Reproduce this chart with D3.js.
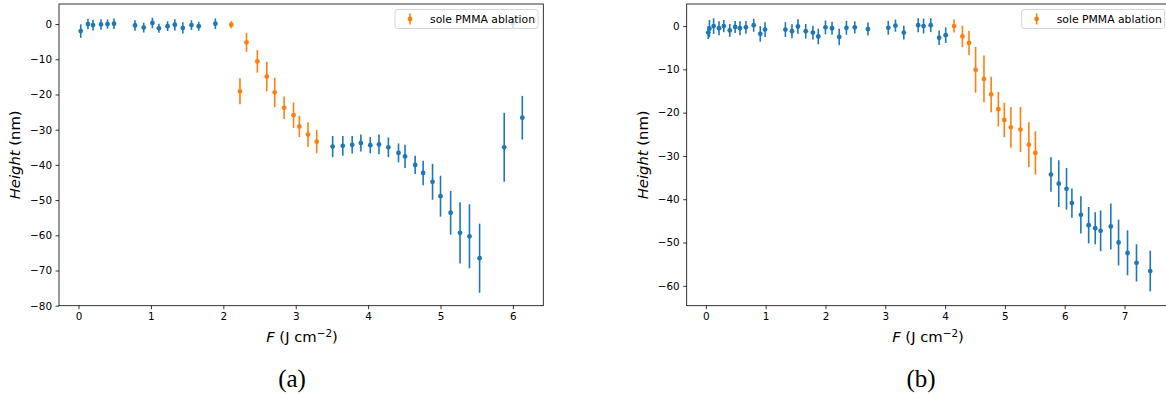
<!DOCTYPE html>
<html>
<head>
<meta charset="utf-8">
<script src="https://cdn.jsdelivr.net/npm/d3@7"></script>
<style>
  body { margin: 0; background: #fff; }
  svg text { font-family: "DejaVu Sans", sans-serif; }
  svg text.caption { font-family: "Liberation Serif", "DejaVu Serif", serif; }
</style>
</head>
<body>
<div id="viz"></div>
<script>
// panel (a): all points, and the sole PMMA ablation subset
var aBlueF = [0.03, 0.13, 0.20, 0.31, 0.40, 0.49, 0.78, 0.90, 1.02, 1.11, 1.23, 1.33, 1.44, 1.56, 1.66, 1.89,
              3.51, 3.65, 3.78, 3.90, 4.03, 4.15, 4.28, 4.42, 4.51, 4.65, 4.76, 4.89, 5.00, 5.14, 5.27, 5.40, 5.54,
              6.00, 5.88, 6.13];
var aBlueH = [-2.0, 0.0, -0.3, -0.1, 0.0, 0.1, -0.4, -1.0, 0.3, -1.2, -0.6, -0.2, -1.1, -0.3, -0.6, 0.1,
              -34.8, -34.6, -34.3, -33.8, -34.4, -34.2, -35.0, -36.6, -37.6, -40.0, -42.3, -44.8, -48.9, -53.6, -59.3, -60.3, -66.5,
              0.3, -35.0, -26.6];
var aBlueE = [1.9, 1.5, 1.5, 1.5, 1.3, 1.5, 1.5, 1.4, 1.5, 1.3, 1.4, 1.6, 1.6, 1.4, 1.3, 1.5,
              3.0, 2.8, 2.5, 2.4, 2.3, 2.8, 2.8, 2.7, 3.3, 2.6, 3.5, 5.1, 5.8, 6.2, 8.7, 9.1, 9.8,
              1.4, 9.8, 6.2];
var aOrangeF = [2.11, 2.23, 2.32, 2.47, 2.60, 2.71, 2.84, 2.97, 3.05, 3.17, 3.29];
var aOrangeH = [-0.2, -19.1, -5.2, -10.6, -14.9, -19.4, -23.8, -25.9, -29.1, -31.4, -33.4];
var aOrangeE = [1.0, 3.7, 2.7, 3.2, 4.2, 4.2, 3.2, 3.6, 3.0, 3.5, 3.3];

// panel (b)
var bBlueF = [0.04, 0.06, 0.13, 0.22, 0.30, 0.40, 0.49, 0.57, 0.67, 0.80, 0.91, 0.99, 1.33, 1.44, 1.54, 1.67,
              1.79, 1.88, 2.00, 2.11, 2.23, 2.35, 2.49, 2.71, 3.05, 3.17, 3.31, 3.55, 3.64, 3.76, 3.90, 4.01,
              5.77, 5.90, 6.03, 6.12, 6.27, 6.40, 6.51, 6.60, 6.77, 6.90, 7.05, 7.20, 7.43];
var bBlueH = [-1.5, -0.6, 0.0, -0.5, 0.0, -1.0, -0.2, -0.5, -0.3, 0.2, -1.8, -0.8, -0.8, -1.2, -0.1, -1.2,
              -1.5, -2.4, -0.3, -0.5, -2.5, -0.4, -0.3, -0.7, -0.4, 0.1, -1.5, 0.2, 0.0, 0.2, -2.7, -2.1,
              -34.3, -36.4, -37.6, -40.9, -43.6, -46.0, -46.7, -47.3, -46.3, -50.0, -52.4, -54.7, -56.6];
var bBlueE = [1.5, 2.0, 1.8, 1.6, 1.4, 1.5, 1.4, 1.6, 1.5, 1.5, 1.8, 1.7, 1.7, 1.6, 1.7, 1.7,
              1.6, 1.8, 1.6, 1.5, 1.9, 1.6, 1.4, 1.5, 1.6, 1.4, 1.6, 1.6, 1.7, 1.6, 1.7, 1.8,
              4.0, 5.4, 4.8, 3.4, 4.3, 4.2, 3.7, 4.7, 5.3, 5.3, 5.2, 4.3, 4.7];
var bOrangeF = [4.15, 4.29, 4.40, 4.51, 4.65, 4.77, 4.89, 4.99, 5.10, 5.26, 5.40, 5.51];
var bOrangeH = [0.0, -2.4, -3.9, -10.1, -12.2, -15.8, -19.2, -21.7, -23.4, -23.9, -27.4, -29.3];
var bOrangeE = [1.5, 2.5, 2.8, 5.3, 5.4, 4.1, 4.0, 4.0, 4.7, 5.2, 5.2, 5.0];

var aTicksX = [0, 1, 2, 3, 4, 5, 6];
var aTicksY = [-80, -70, -60, -50, -40, -30, -20, -10, 0];
var bTicksX = [0, 1, 2, 3, 4, 5, 6, 7];
var bTicksY = [-60, -50, -40, -30, -20, -10, 0];

var legendLabel = "sole PMMA ablation";

var blue = "#1f77b4";
var orange = "#ff7f0e";

var w = 1166;
var h = 395;

var svg = d3.select("#viz")
            .append("svg")
            .attr("width", w)
            .attr("height", h);

function zip(F, H, E) {
    return F.map(function(f, i) { return {F: f, H: H[i], E: E[i]}; });
}

function drawPanel(p) {
    var xscale = d3.scaleLinear().domain(p.xdom).range([p.left, p.right]);
    var yscale = d3.scaleLinear().domain(p.ydom).range([p.bottom, p.top]);

    var g = svg.append("g");

    // series
    [[p.blue, blue], [p.orange, orange]].forEach(function(s) {
        var pts = g.append("g").selectAll("g")
                   .data(s[0])
                   .enter()
                   .append("g");
        pts.append("line")
           .attr("x1", function(d) { return xscale(d.F); })
           .attr("x2", function(d) { return xscale(d.F); })
           .attr("y1", function(d) { return yscale(d.H - d.E); })
           .attr("y2", function(d) { return yscale(d.H + d.E); })
           .attr("stroke", s[1])
           .attr("stroke-width", 1.6);
        pts.append("circle")
           .attr("cx", function(d) { return xscale(d.F); })
           .attr("cy", function(d) { return yscale(d.H); })
           .attr("r", 2.4)
           .attr("fill", s[1]);
    });

    // axes
    var xaxis = d3.axisBottom(xscale).tickValues(p.xticks).tickSize(3.5).tickPadding(3.5)
                  .tickFormat(d3.format("d"));
    var yaxis = d3.axisLeft(yscale).tickValues(p.yticks).tickSize(3.5).tickPadding(3.5)
                  .tickFormat(d3.format("d"));

    var gx = g.append("g").attr("transform", "translate(0," + p.bottom + ")").call(xaxis);
    var gy = g.append("g").attr("transform", "translate(" + p.left + ",0)").call(yaxis);
    [gx, gy].forEach(function(a) {
        a.select(".domain").remove();
        a.selectAll("line").attr("stroke", "#000").attr("stroke-width", 0.8);
        a.selectAll("text").attr("font-size", 10.4).attr("fill", "#000");
    });

    g.append("rect")
     .attr("x", p.left).attr("y", p.top)
     .attr("width", p.right - p.left).attr("height", p.bottom - p.top)
     .attr("fill", "none").attr("stroke", "#000").attr("stroke-width", 0.8);

    // axis labels
    var ylab = g.append("text")
                .attr("transform", "translate(" + p.ylabX + "," + ((p.top + p.bottom) / 2) + ") rotate(-90)")
                .attr("text-anchor", "middle")
                .attr("font-size", 14.8);
    ylab.append("tspan").attr("font-style", "italic").text("Height");
    ylab.append("tspan").text(" (nm)");

    var xlab = g.append("text")
                .attr("x", p.xlabX).attr("y", 342)
                .attr("text-anchor", "middle")
                .attr("font-size", 14.8);
    xlab.append("tspan").attr("font-style", "italic").text("F");
    xlab.append("tspan").text(" (J cm");
    xlab.append("tspan").attr("font-size", 10.4).attr("dy", -5.5).text("\u22122");
    xlab.append("tspan").attr("dy", 5.5).text(")");

    // legend
    var lg = g.append("g").attr("transform", "translate(" + p.legX + ",9.5)");
    lg.append("rect")
      .attr("width", 143).attr("height", 19).attr("rx", 2.5)
      .attr("fill", "#fff").attr("fill-opacity", 0.8)
      .attr("stroke", "#ccc").attr("stroke-width", 0.8);
    lg.append("line")
      .attr("x1", 15).attr("x2", 15).attr("y1", 4).attr("y2", 15)
      .attr("stroke", orange).attr("stroke-width", 1.6);
    lg.append("circle").attr("cx", 15).attr("cy", 9.5).attr("r", 2.4).attr("fill", orange);
    lg.append("text")
      .attr("x", 35).attr("y", 13.5)
      .attr("font-size", 10.8)
      .text(legendLabel);

    // caption
    svg.append("text")
       .attr("class", "caption")
       .attr("x", p.capX).attr("y", 387)
       .attr("text-anchor", "middle")
       .attr("font-size", 25)
       .text(p.caption);
}

drawPanel({
    blue: zip(aBlueF, aBlueH, aBlueE),
    orange: zip(aOrangeF, aOrangeH, aOrangeE),
    xdom: [-0.27, 6.42], ydom: [-80, 5.7],
    left: 59, right: 543.3, top: 4, bottom: 305.7,
    xticks: aTicksX, yticks: aTicksY,
    ylabX: 20, xlabX: 302, legX: 395, capX: 292, caption: "(a)"
});

drawPanel({
    blue: zip(bBlueF, bBlueH, bBlueE),
    orange: zip(bOrangeF, bOrangeH, bOrangeE),
    xdom: [-0.32, 7.76], ydom: [-64.6, 5.1],
    left: 686.7, right: 1170, top: 4, bottom: 305.7,
    xticks: bTicksX, yticks: bTicksY,
    ylabX: 648, xlabX: 928, legX: 1021.7, capX: 921, caption: "(b)"
});
</script>
</body>
</html>
